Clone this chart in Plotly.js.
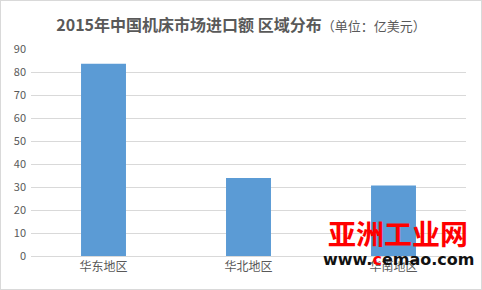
<!DOCTYPE html>
<html><head><meta charset="utf-8">
<script src="https://cdn.plot.ly/plotly-3.0.1.min.js"></script>
<style>html,body{margin:0;padding:0;background:#fff}#c{width:480px;height:288px;border:1px solid #d9d9d9}</style>
</head><body><div id="c"></div>
<script>
const categories = ["华东地区", "华北地区", "华南地区"];
const values = [83.6, 33.9, 30.6];
const yTicks = [0,10,20,30,40,50,60,70,80,90];
const titleMain = "2015年中国机床市场进口额 区域分布";
const titleUnit = "（单位：亿美元）";

const font = "'Noto Sans CJK SC', 'Microsoft YaHei', sans-serif";
Plotly.newPlot('c', [{
  type: 'bar', x: categories, y: values,
  marker: {color: '#5b9bd5'}, width: 0.31, hoverinfo: 'none'
}], {
  width: 480, height: 288,
  margin: {l: 30, r: 15, t: 48, b: 33},
  paper_bgcolor: '#fff', plot_bgcolor: '#fff',
  font: {family: font, color: '#595959', size: 11},
  title: {text: '<b>' + titleMain + '</b><span style="font-size:13px">' + titleUnit + '</span>',
          x: 0.5, xanchor: 'center', y: 0.915, yanchor: 'middle',
          font: {size: 16, color: '#595959', family: font}},
  xaxis: {showline: true, linecolor: '#d9d9d9', ticks: '', tickfont: {size: 12, color: '#595959'}, fixedrange: true},
  yaxis: {range: [0, 90], tickvals: yTicks, gridcolor: '#d9d9d9', zeroline: false,
          showline: false, ticks: '', tickfont: {size: 11, color: '#595959'}, ticklabelstandoff: 4},
  showlegend: false,
  annotations: [
    {xref: 'paper', yref: 'paper', x: 0.844, y: 0.109, xanchor: 'center', yanchor: 'middle',
     text: '<b>亚洲工业网</b>', showarrow: false,
     font: {size: 28, color: '#ff0000', family: font}},
    {xref: 'paper', yref: 'paper', x: 0.844, y: -0.019, xanchor: 'center', yanchor: 'middle',
     text: '<b>www.<span style="color:#ff0000">c</span>emao.com</b>', showarrow: false,
     font: {size: 16, color: '#111', family: "'DejaVu Sans', sans-serif"}}
  ]
}, {displayModeBar: false, staticPlot: true});
</script></body></html>
